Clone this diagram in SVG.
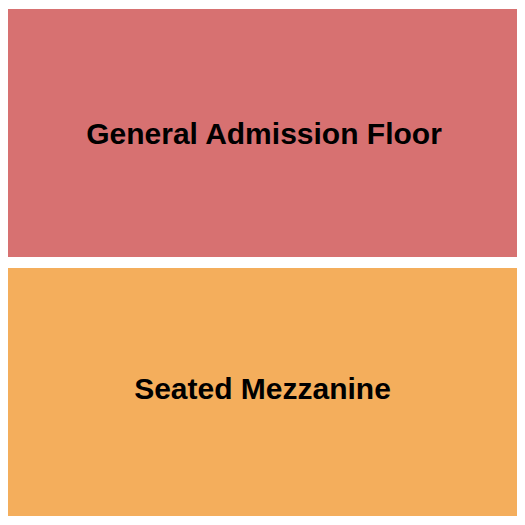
<svg xmlns="http://www.w3.org/2000/svg" width="525" height="525" viewBox="0 0 525 525">
<style>
text{font-family:"Liberation Sans",Arial,sans-serif;font-weight:bold;font-size:30px;fill:#000;text-anchor:middle}
</style>
<rect width="525" height="525" fill="#fff"/>
<g id="ga-floor">
<rect x="8" y="9" width="509" height="248" fill="#D77171"/>
<text x="264" y="144">General Admission Floor</text>
</g>
<g id="seated-mezzanine">
<rect x="8" y="268" width="509" height="248" fill="#F4AE5C"/>
<text x="262.5" y="399">Seated Mezzanine</text>
</g>
<g id="connectors"/>
</svg>
